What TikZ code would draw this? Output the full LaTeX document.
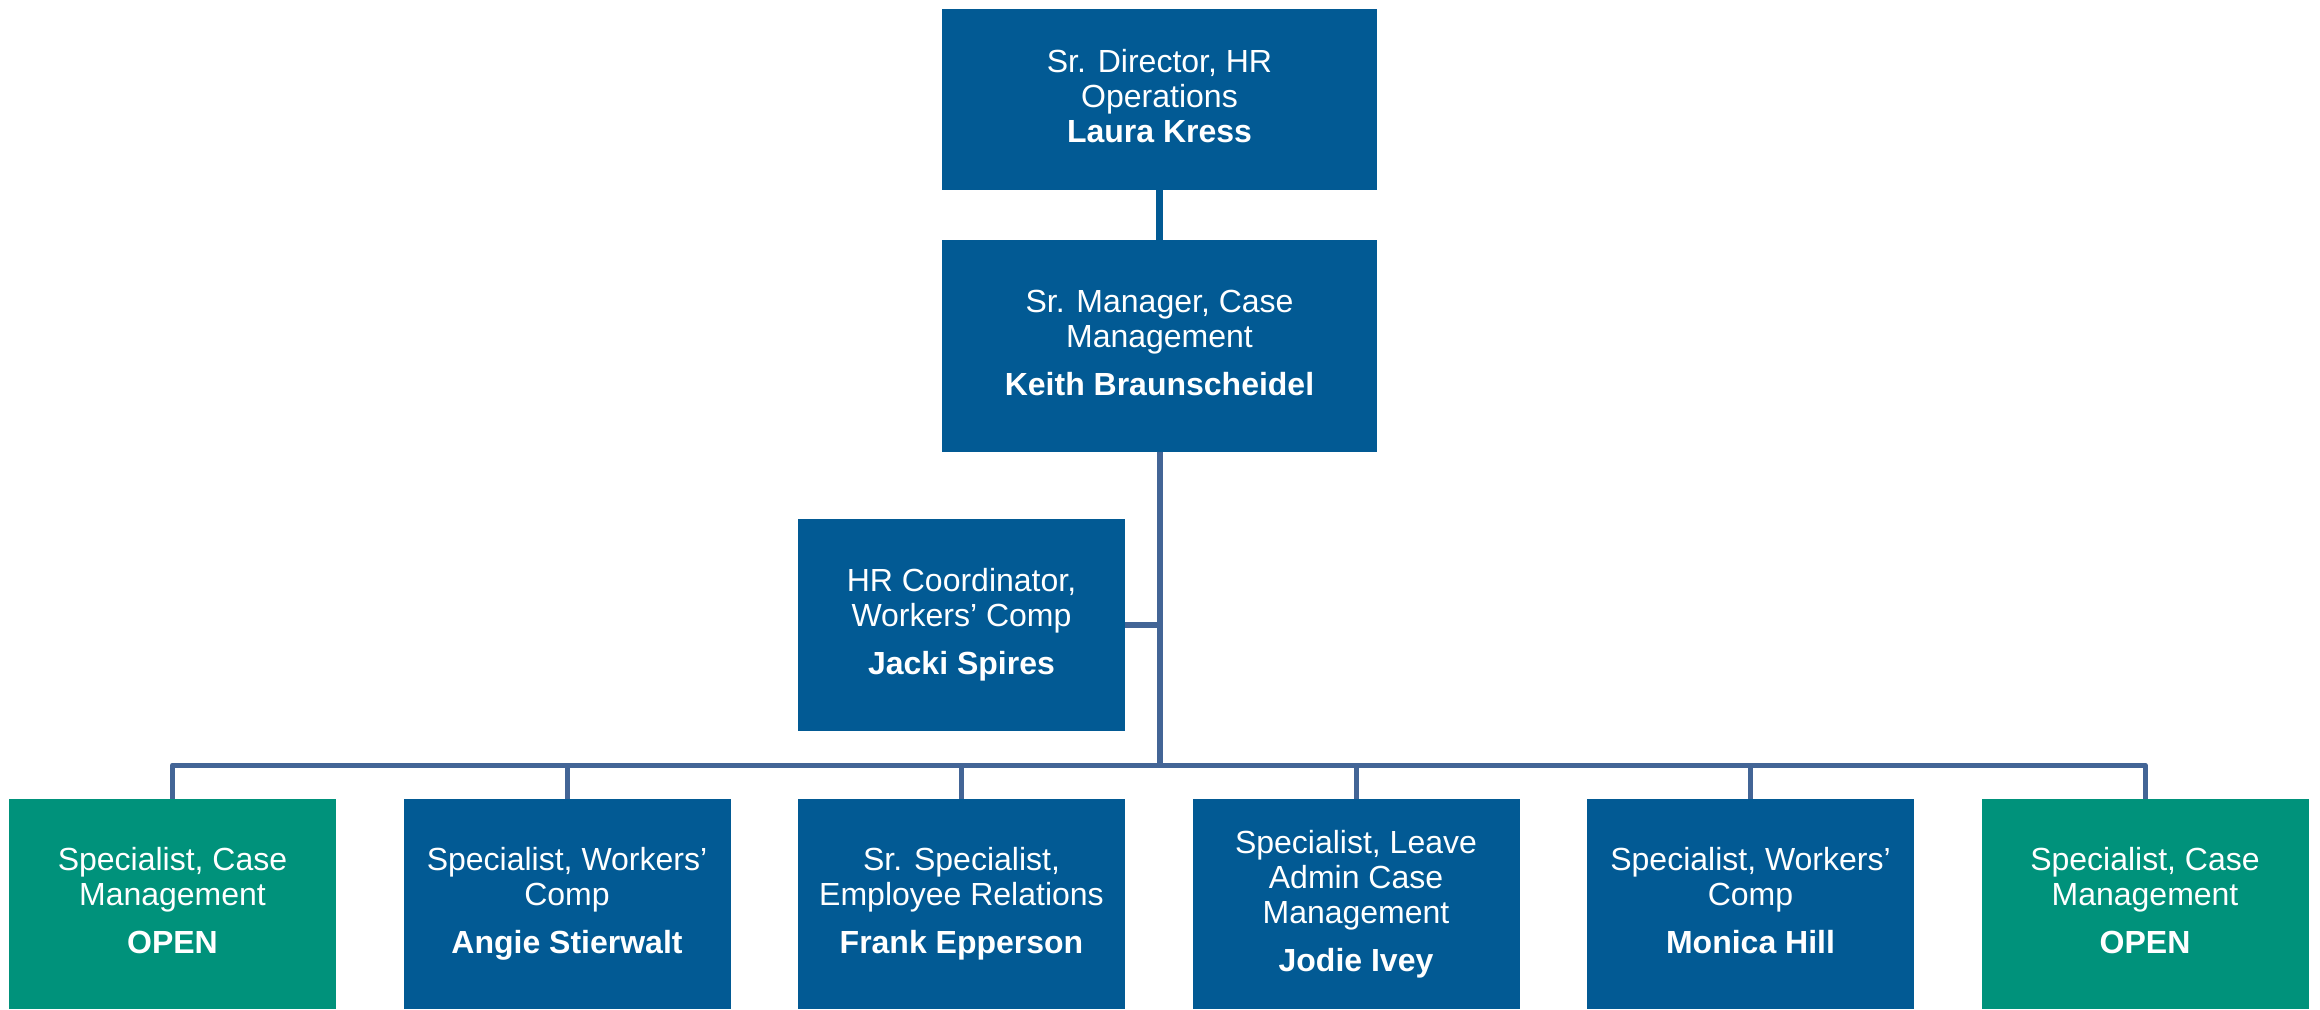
\documentclass[tikz,border=0pt]{standalone}
\usepackage{fontspec}
\setmainfont{Liberation Sans}
\definecolor{boxblue}{HTML}{025A94}
\definecolor{boxgreen}{HTML}{00927B}
\definecolor{linkblue}{HTML}{436596}
\newcommand{\namedepth}{\rule[-7pt]{0pt}{1pt}}
\begin{document}
\begin{tikzpicture}[x=1pt,y=-1pt,
  orgbox/.style={rectangle, inner sep=0pt, text=white, align=center,
    font=\fontsize{32}{35}\selectfont, minimum width=327pt, minimum height=210pt, fill=boxblue},
  openbox/.style={orgbox, fill=boxgreen},
  link/.style={draw=linkblue, line width=6pt},
  buslink/.style={draw=linkblue, line width=5pt, line join=round}]
\useasboundingbox (0,0) rectangle (2320,1009);
\fill[white] (0,0) rectangle (2320,1009);

\node[orgbox, minimum width=435pt, minimum height=181pt] (dir) at (1159.5,99.5)
  {Sr. Director, HR\\Operations\\\textbf{Laura Kress}\namedepth};
\node[orgbox, minimum width=435pt, minimum height=212pt] (mgr) at (1159.5,346)
  {Sr. Manager, Case\\Management\\[13pt]\textbf{Keith Braunscheidel}\namedepth};
\node[orgbox, minimum height=212pt] (coord) at (961.5,625)
  {HR Coordinator,\\Workers’ Comp\\[13pt]\textbf{Jacki Spires}\namedepth};

\node[openbox] (b1) at (172.5,904)
  {Specialist, Case\\Management\\[13pt]\textbf{OPEN}\namedepth};
\node[orgbox] (b2) at (567,904)
  {Specialist, Workers’\\Comp\\[13pt]\textbf{Angie Stierwalt}\namedepth};
\node[orgbox] (b3) at (961.5,904)
  {Sr. Specialist,\\Employee Relations\\[13pt]\textbf{Frank Epperson}\namedepth};
\node[orgbox] (b4) at (1356,904)
  {Specialist, Leave\\Admin Case\\Management\\[13pt]\textbf{Jodie Ivey}\namedepth};
\node[orgbox] (b5) at (1750.5,904)
  {Specialist, Workers’\\Comp\\[13pt]\textbf{Monica Hill}\namedepth};
\node[openbox] (b6) at (2145,904)
  {Specialist, Case\\Management\\[13pt]\textbf{OPEN}\namedepth};

\coordinate (bus) at (1159.5,765);

\draw[draw=boxblue, line width=7pt] (dir.south) -- (mgr.north);
\draw[link] (mgr.south) -- (bus);
\draw[link] (coord.east) -- (coord.east -| bus);
\draw[buslink] (b1.north) -- (b1.north |- bus) -- (b6.north |- bus) -- (b6.north);
\foreach \b in {b2,b3,b4,b5}
  \draw[buslink] (\b.north) -- (\b.north |- bus);
\end{tikzpicture}
\end{document}
